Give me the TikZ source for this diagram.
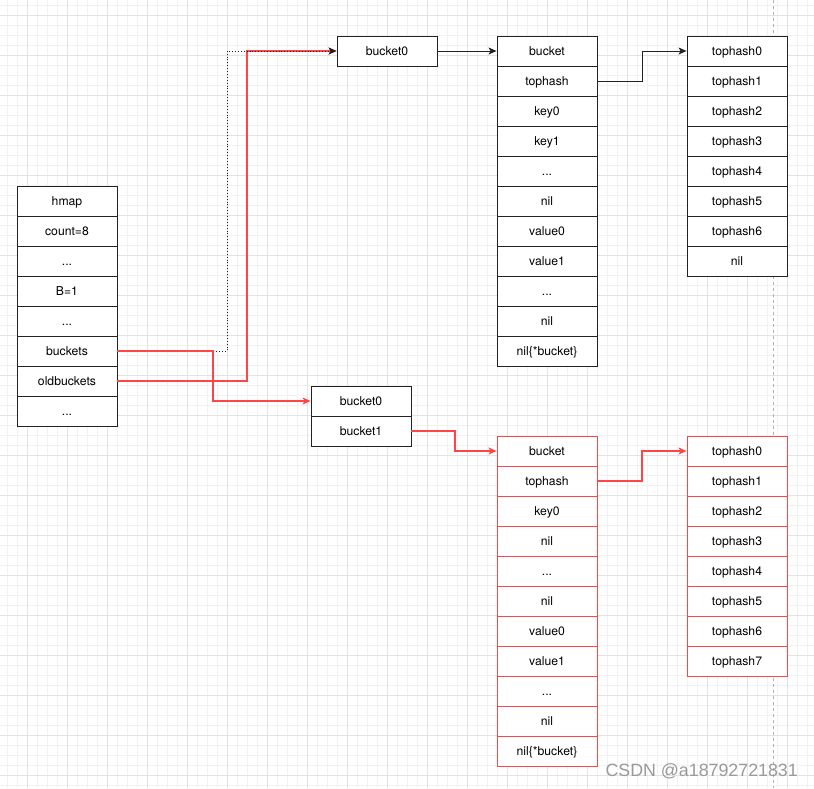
\documentclass[tikz,border=0pt]{standalone}
\usepackage{fontspec}
\setmainfont{TeX Gyre Heros}
\newfontfamily\wmfont{Liberation Sans}
\usetikzlibrary{arrows.meta}
\definecolor{gminor}{HTML}{F2F2F2}
\definecolor{gmajor}{HTML}{E3E3E3}
\definecolor{boxline}{HTML}{222222}
\definecolor{redline}{HTML}{FF4545}
\definecolor{wm}{HTML}{9A9A9A}
\newcommand\myddd{...}
\tikzset{
  cell/.style={draw=boxline, line width=0.9pt, minimum width=100pt, minimum height=30pt, inner sep=0pt, text height=8.6pt, text depth=0pt, font=\fontsize{12.2}{14}\selectfont, fill=white},
  redcell/.style={cell, draw=redline},
  blk/.style={draw=boxline, line width=0.9pt, -{Stealth[length=8pt,width=7pt,inset=2pt]}},
  rd/.style={draw=redline, line width=1.1pt, -{Stealth[length=8pt,width=7pt,inset=2pt]}},
  dotblk/.style={draw=boxline, line width=0.9pt, dotted, -{Stealth[length=8pt,width=7pt,inset=2pt]}},
}
\begin{document}
\begin{tikzpicture}[x=1pt,y=-1pt]
\useasboundingbox (0,0) rectangle (814,788);
\fill[white] (0,0) rectangle (814,788);
% grid
\foreach \k in {0,1,...,81} { \draw[gminor, line width=0.6pt] (7+10*\k,0) -- (7+10*\k,788); }
\foreach \k in {0,1,...,78} { \draw[gminor, line width=0.6pt] (0,5+10*\k) -- (814,5+10*\k); }
\foreach \k in {0,1,...,20} { \draw[gmajor, line width=0.8pt] (27+40*\k,0) -- (27+40*\k,788); }
\foreach \k in {0,1,...,19} { \draw[gmajor, line width=0.8pt] (0,15+40*\k) -- (814,15+40*\k); }
\draw[gray!60, dashed, line width=0.7pt] (773,0) -- (773,788);
% hmap
\foreach \t [count=\i from 0] in {hmap,count=8,\myddd,B=1,\myddd,buckets,oldbuckets,\myddd}
  \node[cell] (h\i) at (67,201+30*\i) {\t};
% top bucket0
\node[cell] (tb0) at (387,51) {bucket0};
% bucket table 1
\foreach \t [count=\i from 0] in {bucket,tophash,key0,key1,\myddd,nil,value0,value1,\myddd,nil,nil\{*bucket\}}
  \node[cell] (a\i) at (547,51+30*\i) {\t};
% tophash table 1
\foreach \t [count=\i from 0] in {tophash0,tophash1,tophash2,tophash3,tophash4,tophash5,tophash6,nil}
  \node[cell] (p\i) at (737,51+30*\i) {\t};
% middle bucket0 / bucket1
\node[cell] (mb0) at (361,401) {bucket0};
\node[cell] (mb1) at (361,431) {bucket1};
% red bucket table 2
\foreach \t [count=\i from 0] in {bucket,tophash,key0,nil,\myddd,nil,value0,value1,\myddd,nil,nil\{*bucket\}}
  \node[redcell] (b\i) at (547,451+30*\i) {\t};
% red tophash table 2
\foreach \t [count=\i from 0] in {tophash0,tophash1,tophash2,tophash3,tophash4,tophash5,tophash6,tophash7}
  \node[redcell] (q\i) at (737,451+30*\i) {\t};
% connectors
\path[rd] (h6.east) -- (247,381) -- (247,51) -- (tb0.west);
\path[dotblk] (h5.east) -- (227,351) -- (227,51) -- (tb0.west);
\path[rd] (h5.east) -- (213,351) -- (213,401) -- (mb0.west);
\path[blk] (tb0.east) -- (a0.west);
\path[blk] (a1.east) -- (642,81) -- (642,51) -- (p0.west);
\path[rd] (mb1.east) -- (455,431) -- (455,451) -- (b0.west);
\path[rd] (b1.east) -- (642,481) -- (642,451) -- (q0.west);
% watermark
\node[wm, font=\wmfont\fontsize{17.8}{20}\selectfont, anchor=east, inner sep=0pt] (wmk) at (798,771) {CSDN @a18792721831};
\end{tikzpicture}
\end{document}
